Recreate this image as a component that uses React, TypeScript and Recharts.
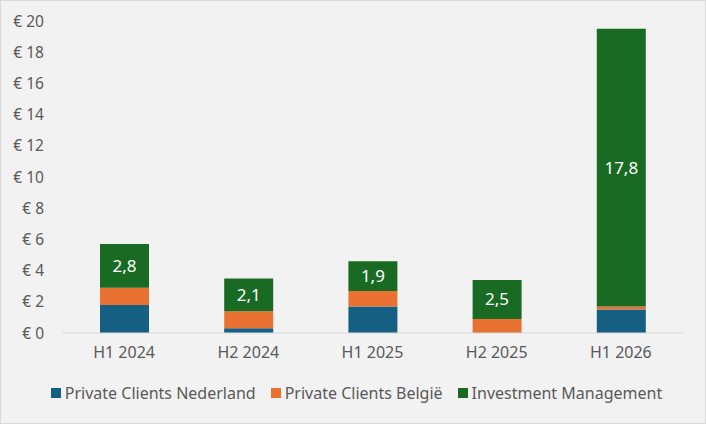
import React from "react";
import { BarChart, Bar, XAxis, YAxis, Legend, LabelList } from "recharts";

const categories = ["H1 2024", "H2 2024", "H1 2025", "H2 2025", "H1 2026"];
const privateClientsNederland = [1.8, 0.3, 1.7, 0.0, 1.5];
const privateClientsBelgie = [1.1, 1.1, 1.0, 0.9, 0.2];
const investmentManagement = [2.8, 2.1, 1.9, 2.5, 17.8];
const yTicks = [0, 2, 4, 6, 8, 10, 12, 14, 16, 18, 20];

const seriesNames = ["Private Clients Nederland", "Private Clients België", "Investment Management"];
const colors = ["#156082", "#E97132", "#196B24"];

const data = categories.map((c, i) => ({
  name: c,
  nl: privateClientsNederland[i],
  be: privateClientsBelgie[i],
  im: investmentManagement[i],
}));

const FONT = "'Noto Sans', sans-serif";

const renderLegend = () => (
  <div
    style={{
      display: "flex",
      justifyContent: "center",
      alignItems: "center",
      fontFamily: FONT,
      fontSize: 16,
      color: "#595959",
      height: 20,
      paddingLeft: 30,
    }}
  >
    {seriesNames.map((n, i) => (
      <div key={n} style={{ display: "flex", alignItems: "center", marginRight: i < 2 ? 15 : 0 }}>
        <span style={{ display: "inline-block", width: 10, height: 10, background: colors[i], marginRight: 4 }} />
        <span>{n}</span>
      </div>
    ))}
  </div>
);

export default function App() {
  return (
    <div
      style={{
        position: "absolute",
        left: 0,
        top: 0,
        width: 706,
        height: 424,
        background: "#f2f2f2",
        border: "1px solid #d9d9d9",
        boxSizing: "border-box",
      }}
    >
      <div style={{ position: "absolute", left: -1, top: -1 }}>
        <BarChart
          width={706}
          height={424}
          data={data}
          margin={{ top: 21, right: 23, left: 0, bottom: 21 }}
        >
          <XAxis
            dataKey="name"
            height={50}
            tickLine={false}
            axisLine={{ stroke: "#d9d9d9" }}
            tickMargin={8}
            tick={{ fill: "#595959", fontSize: 16, fontFamily: FONT }}
          />
          <YAxis
            width={62}
            domain={[0, 20]}
            ticks={yTicks}
            interval={0}
            tickLine={false}
            axisLine={false}
            tickMargin={12}
            tickFormatter={(v: number) => `€ ${v}`}
            tick={{ fill: "#595959", fontSize: 15.5, fontFamily: FONT }}
          />
          <Legend verticalAlign="bottom" content={renderLegend} />
          <Bar dataKey="nl" name={seriesNames[0]} stackId="a" fill={colors[0]} barSize={49} isAnimationActive={false} />
          <Bar dataKey="be" name={seriesNames[1]} stackId="a" fill={colors[1]} barSize={49} isAnimationActive={false} />
          <Bar dataKey="im" name={seriesNames[2]} stackId="a" fill={colors[2]} barSize={49} isAnimationActive={false}>
            <LabelList
              dataKey="im"
              position="center"
              formatter={(v: number) => v.toFixed(1).replace(".", ",")}
              style={{ fill: "#ffffff", fontSize: 17, fontFamily: FONT }}
            />
          </Bar>
        </BarChart>
      </div>
    </div>
  );
}
